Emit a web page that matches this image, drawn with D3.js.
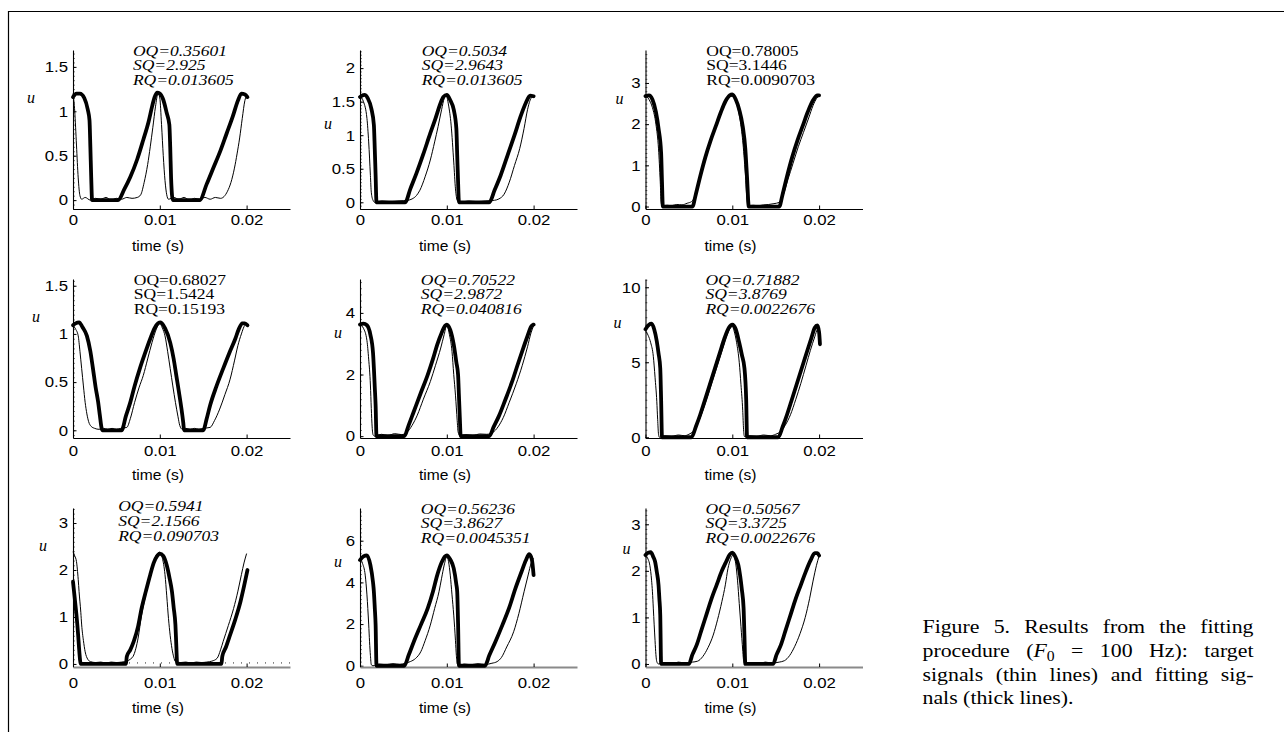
<!DOCTYPE html>
<html><head><meta charset="utf-8">
<script src="https://cdn.jsdelivr.net/npm/d3@7"></script>
<style>body{margin:0;background:#fff} svg{display:block}</style>
</head><body><svg id="c" width="1284" height="732"></svg>
<script>
// ---------------- DATA ----------------
const xTicks = [0, 0.01, 0.02];
const xDomain = [0, 0.025];
const oqText = ["0.35601","0.5034","0.78005","0.68027","0.70522","0.71882","0.5941","0.56236","0.50567"];
const sqText = ["2.925","2.9643","3.1446","1.5424","2.9872","3.8769","2.1566","3.8627","3.3725"];
const rqText = ["0.013605","0.013605","0.0090703","0.15193","0.040816","0.0022676","0.090703","0.0045351","0.0022676"];
const annotItalic = [true,true,false,false,true,true,true,true,true];
const yMin = [-0.1, -0.1, -0.06, -0.08, -0.06, -0.05, -0.065, -0.06, -0.065];
const yMax = [1.69, 2.27, 3.8, 1.57, 5.1, 10.55, 3.32, 7.57, 3.35];
const yTicks = [[0,0.5,1,1.5],[0,0.5,1,1.5,2],[0,1,2,3],[0,0.5,1,1.5],[0,2,4],[0,5,10],[0,1,2,3],[0,2,4,6],[0,1,2,3]];
const yMinorStep = [0.05,0.05,0.1,0.05,0.2,0.5,0.1,0.2,0.1];

const fit1 = [[0,1.16],[0.0004,1.2],[0.0008,1.2],[0.0013,1.15],[0.0017,1.02],[0.0019,0.9],[0.002,0.6],[0.0021,0.25],[0.0022,0],[0.0052,0],[0.0059,0.12],[0.0066,0.26],[0.0074,0.46],[0.0081,0.68],[0.0087,0.88],[0.0091,1.05],[0.0094,1.16],[0.0097,1.21],[0.01,1.2],[0.0104,1.13],[0.0108,0.98],[0.0111,0.85],[0.0112,0.6],[0.0113,0.25],[0.0115,0],[0.0146,0],[0.0154,0.18],[0.0162,0.37],[0.017,0.56],[0.0177,0.75],[0.0184,0.94],[0.019,1.12],[0.0194,1.2],[0.0198,1.19],[0.0201,1.16]];
const target1 = [[0,1.2],[0.0002,1.0],[0.0004,0.62],[0.0006,0.25],[0.0008,0.05],[0.001,0.01],[0.0014,0.03],[0.002,0.0],[0.0026,0.02],[0.0032,0.01],[0.0038,0.03],[0.0044,0.0],[0.005,0.02],[0.0056,0.01],[0.0062,0.03],[0.0068,0.02],[0.0074,0.03],[0.0078,0.06],[0.0082,0.2],[0.0086,0.4],[0.0089,0.6],[0.0092,0.82],[0.0095,1.05],[0.0098,1.2],[0.01,1.15],[0.0102,0.85],[0.0104,0.5],[0.0106,0.22],[0.0108,0.06],[0.011,0.01],[0.0116,0.03],[0.0122,0.01],[0.0128,0.03],[0.0134,0.0],[0.014,0.02],[0.0146,0.01],[0.0152,0.03],[0.0158,0.01],[0.0164,0.03],[0.017,0.02],[0.0174,0.04],[0.0178,0.1],[0.0182,0.2],[0.0186,0.36],[0.0189,0.52],[0.0192,0.7],[0.0195,0.92],[0.0198,1.12],[0.02,1.18]];

const fit2 = [[0,1.57],[0.0005,1.6],[0.0009,1.55],[0.0013,1.4],[0.0016,1.15],[0.0017,0.8],[0.0018,0.4],[0.0019,0],[0.0052,0],[0.0058,0.2],[0.0065,0.43],[0.0073,0.72],[0.0081,1.03],[0.0087,1.25],[0.0092,1.45],[0.0096,1.57],[0.01,1.6],[0.0104,1.52],[0.0108,1.38],[0.0111,1.1],[0.0112,0.7],[0.0113,0.3],[0.0114,0],[0.0149,0],[0.0155,0.18],[0.0162,0.4],[0.017,0.7],[0.0178,1.0],[0.0185,1.28],[0.0191,1.48],[0.0196,1.59],[0.02,1.58]];
const target2 = [[0,1.58],[0.0004,1.5],[0.0008,1.25],[0.001,0.9],[0.0012,0.4],[0.0013,0.15],[0.0015,0.03],[0.0017,0],[0.0025,0.02],[0.0035,0.01],[0.0045,0.02],[0.0055,0.03],[0.006,0.05],[0.0065,0.1],[0.0069,0.18],[0.0075,0.38],[0.0081,0.63],[0.0086,0.9],[0.009,1.13],[0.0094,1.38],[0.0097,1.55],[0.0099,1.6],[0.0102,1.45],[0.0105,1.15],[0.0108,0.6],[0.011,0.2],[0.0112,0.03],[0.0115,0],[0.0125,0.02],[0.0135,0.01],[0.0145,0.02],[0.0155,0.03],[0.016,0.05],[0.0166,0.12],[0.0172,0.3],[0.0178,0.55],[0.0184,0.8],[0.0189,1.1],[0.0193,1.38],[0.0197,1.55],[0.02,1.58]];

const fit3 = [[0,2.68],[0.0004,2.7],[0.0008,2.6],[0.0012,2.3],[0.0015,1.9],[0.0018,1.3],[0.0019,0.6],[0.002,0],[0.0054,0],[0.0058,0.3],[0.0063,0.73],[0.0069,1.2],[0.0075,1.6],[0.0081,1.95],[0.0087,2.3],[0.0092,2.55],[0.0097,2.7],[0.01,2.72],[0.0104,2.6],[0.0108,2.35],[0.0112,1.95],[0.0115,1.4],[0.0117,0.7],[0.0119,0],[0.0154,0],[0.0158,0.3],[0.0163,0.73],[0.0169,1.2],[0.0175,1.6],[0.0181,1.95],[0.0187,2.3],[0.0193,2.58],[0.0198,2.7],[0.02,2.7]];
const target3 = [[0,2.7],[0.0004,2.6],[0.0008,2.4],[0.0012,2.0],[0.0015,1.4],[0.0017,0.6],[0.0018,0.1],[0.0019,0.02],[0.0025,0.03],[0.003,0.02],[0.0036,0.05],[0.0042,0.04],[0.0048,0.08],[0.0053,0.12],[0.0057,0.25],[0.0063,0.7],[0.0069,1.18],[0.0075,1.58],[0.0081,1.93],[0.0087,2.28],[0.0092,2.55],[0.0097,2.68],[0.0101,2.68],[0.0105,2.5],[0.0109,2.1],[0.0112,1.6],[0.0115,0.8],[0.0117,0.15],[0.0118,0.02],[0.0124,0.03],[0.013,0.02],[0.0136,0.04],[0.0142,0.05],[0.0148,0.07],[0.0154,0.1],[0.0159,0.3],[0.0164,0.65],[0.017,1.05],[0.0176,1.45],[0.0182,1.8],[0.0188,2.15],[0.0193,2.45],[0.0197,2.62],[0.02,2.68]];

const fit4 = [[0,1.09],[0.0003,1.11],[0.0007,1.12],[0.0011,1.07],[0.0016,0.98],[0.002,0.82],[0.0023,0.64],[0.0026,0.45],[0.0029,0.29],[0.0031,0.15],[0.0033,0.02],[0.0034,0],[0.0056,0],[0.0061,0.15],[0.0066,0.29],[0.0071,0.46],[0.0077,0.64],[0.0083,0.8],[0.0089,0.95],[0.0094,1.06],[0.0098,1.11],[0.0101,1.12],[0.0106,1.06],[0.0112,0.91],[0.0116,0.74],[0.0119,0.57],[0.0122,0.4],[0.0125,0.22],[0.0127,0.08],[0.0128,0],[0.015,0],[0.0154,0.12],[0.0158,0.26],[0.0165,0.45],[0.0173,0.64],[0.018,0.8],[0.0187,0.95],[0.0191,1.05],[0.0195,1.11],[0.0198,1.11],[0.0201,1.09]];
const target4 = [[0,1.09],[0.0003,1.05],[0.0006,0.98],[0.0008,0.82],[0.001,0.64],[0.0012,0.46],[0.0014,0.29],[0.0016,0.17],[0.0018,0.09],[0.0021,0.04],[0.0025,0.02],[0.003,0.01],[0.0035,0.02],[0.004,0.01],[0.0045,0.02],[0.005,0.01],[0.0055,0.02],[0.0062,0.03],[0.0066,0.12],[0.0071,0.29],[0.0076,0.44],[0.0081,0.57],[0.0086,0.74],[0.0091,0.91],[0.0096,1.05],[0.01,1.11],[0.0103,1.06],[0.0106,0.98],[0.0109,0.82],[0.0112,0.64],[0.0115,0.46],[0.0118,0.29],[0.0121,0.14],[0.0123,0.05],[0.0126,0.01],[0.013,0.02],[0.0135,0.01],[0.014,0.02],[0.0145,0.01],[0.015,0.02],[0.0158,0.03],[0.0163,0.1],[0.0169,0.22],[0.0175,0.37],[0.0181,0.53],[0.0186,0.72],[0.019,0.88],[0.0194,1.0],[0.0198,1.09],[0.02,1.1]];

const fit5 = [[0,3.62],[0.0004,3.65],[0.0008,3.6],[0.0012,3.29],[0.0015,2.7],[0.0016,2.2],[0.0017,1.6],[0.0018,1.0],[0.0019,0],[0.0051,0],[0.0056,0.35],[0.0062,0.8],[0.007,1.4],[0.0078,1.99],[0.0084,2.5],[0.0089,2.97],[0.0094,3.35],[0.0098,3.58],[0.01,3.62],[0.0104,3.45],[0.0108,2.97],[0.0111,2.4],[0.0113,1.99],[0.0114,1.3],[0.0115,0.6],[0.0116,0],[0.0149,0],[0.0154,0.3],[0.016,0.65],[0.0167,1.15],[0.0175,1.75],[0.0182,2.35],[0.0188,2.85],[0.0193,3.25],[0.0197,3.55],[0.02,3.62]];
const target5 = [[0,3.62],[0.0004,3.5],[0.0008,3.1],[0.001,2.5],[0.0012,1.66],[0.0013,0.9],[0.0014,0.3],[0.0015,0.05],[0.0017,0],[0.0025,0.06],[0.0032,0.02],[0.004,0.08],[0.0048,0.05],[0.0054,0.12],[0.006,0.35],[0.0066,0.68],[0.0073,1.2],[0.0081,1.77],[0.0087,2.3],[0.0093,2.86],[0.0097,3.3],[0.01,3.6],[0.0103,3.3],[0.0106,2.75],[0.0108,2.0],[0.011,1.33],[0.0112,0.5],[0.0113,0.14],[0.0115,0.02],[0.0122,0.05],[0.013,0.02],[0.0138,0.07],[0.0146,0.06],[0.0153,0.12],[0.0159,0.3],[0.0165,0.6],[0.0172,1.1],[0.018,1.7],[0.0187,2.3],[0.0193,2.9],[0.0197,3.35],[0.02,3.58]];

const fit6 = [[0,7.2],[0.0004,7.5],[0.0007,7.57],[0.001,7.2],[0.0013,6.4],[0.0015,5.6],[0.0017,4.6],[0.0018,2.5],[0.0019,0],[0.0053,0],[0.0058,0.7],[0.0063,1.5],[0.0068,2.4],[0.0074,3.5],[0.008,4.6],[0.0086,5.7],[0.0091,6.6],[0.0096,7.3],[0.01,7.5],[0.0104,7.2],[0.0108,6.3],[0.0111,5.5],[0.0114,4.6],[0.0116,2.5],[0.0117,0],[0.0153,0],[0.0158,0.7],[0.0163,1.5],[0.0168,2.4],[0.0174,3.5],[0.018,4.6],[0.0186,5.7],[0.0191,6.6],[0.0195,7.3],[0.0198,7.45],[0.02,7.0],[0.0201,6.2]];
const target6 = [[0,7.1],[0.0003,6.8],[0.0006,6.3],[0.0009,5.4],[0.0011,4.0],[0.0013,2.4],[0.0014,1.2],[0.0015,0.2],[0.0016,0],[0.0022,0.1],[0.003,0.05],[0.0038,0.15],[0.0045,0.1],[0.005,0.2],[0.0055,0.4],[0.006,0.9],[0.0065,1.6],[0.0071,2.6],[0.0077,3.7],[0.0083,4.8],[0.0089,5.9],[0.0094,6.8],[0.0098,7.3],[0.01,7.4],[0.0102,7.1],[0.0105,6.3],[0.0108,5.0],[0.011,3.5],[0.0112,1.8],[0.0113,0.5],[0.0114,0.05],[0.012,0.1],[0.0128,0.05],[0.0136,0.15],[0.0144,0.1],[0.015,0.2],[0.0156,0.4],[0.0161,0.8],[0.0167,1.5],[0.0173,2.5],[0.0179,3.6],[0.0185,4.8],[0.019,5.8],[0.0195,6.7],[0.0198,7.2],[0.02,7.3]];

const fit7 = [[0,1.75],[0.0002,1.4],[0.0004,1.04],[0.0006,0.6],[0.0007,0.33],[0.0009,0],[0.0061,0],[0.0062,0.16],[0.0066,0.3],[0.007,0.48],[0.0075,0.8],[0.0079,1.18],[0.0084,1.55],[0.0089,1.9],[0.0093,2.15],[0.0097,2.3],[0.01,2.35],[0.0104,2.3],[0.0108,2.1],[0.0111,1.85],[0.0114,1.54],[0.0116,1.2],[0.0118,0.83],[0.0119,0.4],[0.012,0],[0.0171,0],[0.0172,0.16],[0.0176,0.35],[0.0181,0.62],[0.0187,0.95],[0.0193,1.33],[0.0197,1.65],[0.0201,2.0]];
const target7 = [[0,2.39],[0.0002,2.3],[0.0004,2.18],[0.0006,1.8],[0.0007,1.54],[0.0009,1.1],[0.001,0.83],[0.0012,0.5],[0.0014,0.26],[0.0017,0.1],[0.002,0.05],[0.0026,0.03],[0.0032,0.04],[0.0038,0.02],[0.0044,0.04],[0.005,0.03],[0.0056,0.04],[0.0062,0.06],[0.0066,0.1],[0.007,0.19],[0.0075,0.55],[0.0079,1.04],[0.0083,1.4],[0.0087,1.75],[0.0092,2.1],[0.0096,2.32],[0.01,2.38],[0.0103,2.25],[0.0106,1.9],[0.0108,1.45],[0.011,0.97],[0.0112,0.6],[0.0114,0.33],[0.0116,0.15],[0.0118,0.05],[0.0124,0.03],[0.013,0.04],[0.0136,0.02],[0.0142,0.04],[0.0148,0.03],[0.0154,0.04],[0.016,0.06],[0.0166,0.12],[0.017,0.3],[0.0173,0.48],[0.0179,0.82],[0.0185,1.18],[0.019,1.55],[0.0194,1.9],[0.0197,2.15],[0.02,2.35]];

const fit8 = [[0,5.07],[0.0004,5.25],[0.0008,5.3],[0.0012,4.83],[0.0015,4.0],[0.0016,3.55],[0.0017,2.8],[0.0018,1.95],[0.0019,0],[0.0051,0],[0.0056,0.5],[0.0062,1.15],[0.007,1.95],[0.0078,2.75],[0.0084,3.55],[0.0089,4.35],[0.0094,4.95],[0.0098,5.25],[0.01,5.3],[0.0104,5.1],[0.0108,4.67],[0.0111,3.9],[0.0112,3.55],[0.0113,2.0],[0.0114,0],[0.0144,0],[0.0149,0.5],[0.0156,1.15],[0.0164,1.95],[0.0172,2.8],[0.0179,3.7],[0.0186,4.5],[0.0191,5.05],[0.0195,5.35],[0.0198,5.1],[0.02,4.35]];
const target8 = [[0,5.15],[0.0003,4.9],[0.0006,4.35],[0.0008,3.4],[0.0009,2.75],[0.001,2.0],[0.0011,1.15],[0.0012,0.5],[0.0013,0.05],[0.0015,0],[0.0022,0.08],[0.003,0.05],[0.0038,0.1],[0.0046,0.06],[0.0052,0.12],[0.0058,0.2],[0.0064,0.35],[0.007,0.67],[0.0075,1.2],[0.0081,1.95],[0.0086,2.75],[0.0091,3.55],[0.0094,4.2],[0.0097,4.83],[0.01,5.23],[0.0102,5.0],[0.0104,4.35],[0.0106,3.4],[0.0108,2.43],[0.011,1.2],[0.0111,0.5],[0.0112,0.1],[0.0114,0],[0.012,0.08],[0.0128,0.05],[0.0136,0.1],[0.0144,0.06],[0.0152,0.12],[0.0158,0.2],[0.0163,0.4],[0.0169,0.9],[0.0177,1.63],[0.0183,2.5],[0.0189,3.55],[0.0194,4.4],[0.0197,4.9],[0.02,5.15]];

const fit9 = [[0,2.34],[0.0003,2.39],[0.0006,2.4],[0.0009,2.3],[0.0011,2.2],[0.0013,1.98],[0.0015,1.7],[0.0016,1.4],[0.0017,1.05],[0.0018,0],[0.005,0],[0.0054,0.2],[0.0059,0.41],[0.0064,0.7],[0.007,1.05],[0.0076,1.4],[0.0082,1.7],[0.0088,2.0],[0.0093,2.2],[0.0097,2.35],[0.01,2.39],[0.0104,2.28],[0.0107,2.12],[0.0109,1.9],[0.0111,1.6],[0.0113,1.2],[0.0114,0.6],[0.0115,0],[0.0147,0],[0.0151,0.2],[0.0156,0.41],[0.0161,0.7],[0.0167,1.05],[0.0173,1.4],[0.0179,1.7],[0.0185,2.0],[0.019,2.22],[0.0195,2.38],[0.0198,2.38],[0.02,2.33]];
const target9 = [[0,2.34],[0.0003,2.25],[0.0005,2.12],[0.0007,1.8],[0.0008,1.55],[0.0009,1.2],[0.001,0.84],[0.0011,0.5],[0.0012,0.2],[0.0013,0.05],[0.0015,0],[0.0022,0.03],[0.003,0.01],[0.0038,0.04],[0.0046,0.02],[0.0054,0.04],[0.006,0.06],[0.0066,0.16],[0.0072,0.35],[0.0078,0.62],[0.0083,0.95],[0.0088,1.34],[0.0092,1.7],[0.0095,2.05],[0.0098,2.25],[0.0101,2.34],[0.0104,2.15],[0.0106,1.8],[0.0108,1.3],[0.011,0.8],[0.0112,0.3],[0.0113,0.08],[0.0115,0],[0.0122,0.03],[0.013,0.01],[0.0138,0.04],[0.0146,0.02],[0.0154,0.04],[0.016,0.07],[0.0166,0.18],[0.0172,0.38],[0.0178,0.65],[0.0184,1.0],[0.0189,1.4],[0.0193,1.78],[0.0197,2.12],[0.02,2.32]];

const fits = [fit1,fit2,fit3,fit4,fit5,fit6,fit7,fit8,fit9];
const targets = [target1,target2,target3,target4,target5,target6,target7,target8,target9];
const dottedZero = [[0,0],[0.025,0]]; // panel 7 reference line at u = 0

const captionLines = [
  [["Figure"],["5."],["Results"],["from"],["the"],["fitting"]],
  [["procedure"],["(", ["F","i"], ["0","sub"]],["="],["100"],["Hz):"],["target"]],
  [["signals"],["(thin"],["lines)"],["and"],["fitting"],["sig-"]],
  [["nals"],["(thick"],["lines)."]]
];

// ---------------- LAYOUT ----------------
const W = 1284, H = 732;
const colX = [73, 360, 645.5];
const rowTop = [50, 279, 508];
const rowBottom = [209, 438, 667];
const plotW = 217;
const tickLabelDy = [15.5, 17.5, 20.5];
const timeLabelDy = [42, 42, 46];
const uDx = [42, 32, 26, 37, 22, 28, 30, 22, 19];
const uDy = [53, 79, 54, 43, 59, 49, 43, 59, 46];
const annotX = [0.0069,0.0071,0.007,0.007,0.007,0.0069,0.0052,0.007,0.0069];
const annotDy = [5.5,5.5,5.5,5.5,5.5,5.5,3,5.5,5.5];
const tickFont = 15, tickStretch = 1.12;

const sans = "'Liberation Sans', Arial, Helvetica, sans-serif";
const serif = "'Liberation Serif', 'Times New Roman', Times, serif";

const svg = d3.select('#c');
svg.append('rect').attr('width',W).attr('height',H).attr('fill','#fff');
svg.append('line').attr('x1',8).attr('x2',W).attr('y1',11.5).attr('y2',11.5).attr('stroke','#000').attr('stroke-width',1.2);
svg.append('line').attr('x1',8.5).attr('x2',8.5).attr('y1',11).attr('y2',H).attr('stroke','#000').attr('stroke-width',1.2);

function stretchText(sel, sx) {
  sel.each(function() {
    const t = d3.select(this);
    const x = +t.attr('x') || 0, y = +t.attr('y') || 0;
    t.attr('transform', `translate(${x},${y}) scale(${sx},1)`).attr('x', 0).attr('y', 0);
  });
}

for (let i = 0; i < 9; i++) {
  const r = Math.floor(i/3), c = i % 3;
  const x = d3.scaleLinear().domain(xDomain).range([colX[c], colX[c] + plotW]);
  const y = d3.scaleLinear().domain([yMin[i], yMax[i]]).range([rowBottom[r], rowTop[r]]);
  const g = svg.append('g');

  const minor = d3.range(Math.ceil(yMin[i]/yMinorStep[i])*yMinorStep[i], yMax[i], yMinorStep[i]);
  g.append('g').attr('transform', `translate(${colX[c]},0)`)
    .call(d3.axisLeft(y).tickValues(minor).tickSize(-1.8).tickSizeOuter(0).tickFormat(''))
    .call(a => a.select('.domain').remove())
    .call(a => a.selectAll('line').attr('stroke','#333').attr('stroke-width',0.8));

  const ya = g.append('g').attr('transform', `translate(${colX[c]},0)`)
    .call(d3.axisLeft(y).tickValues(yTicks[i]).tickSize(-3.5).tickSizeOuter(0).tickPadding(5).tickFormat(d3.format('~g')));
  ya.attr('font-family', sans).attr('font-size', tickFont);
  ya.select('.domain').attr('stroke','#000').attr('stroke-width',1.1);
  ya.selectAll('text').attr('fill','#000').call(s => stretchText(s, tickStretch));

  const xa = g.append('g').attr('transform', `translate(0,${rowBottom[r]})`)
    .call(d3.axisBottom(x).tickValues(xTicks).tickSize(-3.5).tickSizeOuter(0).tickFormat(d => d === 0 ? '0' : d3.format('.2f')(d)));
  xa.attr('font-family', sans).attr('font-size', tickFont);
  xa.select('.domain').attr('stroke', r === 2 ? '#8a8a8a' : '#000').attr('stroke-width', r === 2 ? 2.2 : 1.1);
  xa.selectAll('text').attr('fill','#000').attr('y', tickLabelDy[r]).attr('dy', 0).call(s => stretchText(s, tickStretch));

  g.append('text').attr('x', colX[c] + 85).attr('y', rowBottom[r] + timeLabelDy[r])
    .attr('text-anchor','middle').attr('font-family', sans).attr('font-size', 15).text('time (s)')
    .call(s => stretchText(s, 1.04));

  g.append('text').attr('x', colX[c] - uDx[i]).attr('y', rowTop[r] + uDy[i])
    .attr('text-anchor','middle').attr('font-family', serif).attr('font-style','italic').attr('font-size', 16).text('u');

  if (i === 6) {
    g.append('path').datum(dottedZero)
      .attr('d', d3.line().x(d => x(d[0])).y(d => y(d[1]) - 1))
      .attr('fill','none').attr('stroke','#222').attr('stroke-width',1).attr('stroke-dasharray','1,7');
  }

  const line = d3.line().x(d => x(d[0])).y(d => y(d[1])).curve(d3.curveMonotoneX);
  g.append('path').datum(targets[i]).attr('d', line)
    .attr('fill','none').attr('stroke','#000').attr('stroke-width',1).attr('stroke-linejoin','round');
  g.append('path').datum(fits[i]).attr('d', line)
    .attr('fill','none').attr('stroke','#000').attr('stroke-width',3.8).attr('stroke-linejoin','round').attr('stroke-linecap','round');

  const ax = x(annotX[i]);
  const labels = [["OQ", oqText[i]], ["SQ", sqText[i]], ["RQ", rqText[i]]];
  const at = g.append('g').attr('transform', `translate(${ax},${rowTop[r] + annotDy[i]}) scale(1.17,1)`);
  labels.forEach((L, k) => {
    at.append('text').attr('x', 0).attr('y', k * 15)
      .attr('font-family', serif).attr('font-size', 15)
      .attr('font-style', annotItalic[i] ? 'italic' : 'normal')
      .text(L[0] + '=' + L[1]);
  });
}

// ---------------- CAPTION (justified, horizontally stretched like the source) ----------------
const capX0 = 922.5, capX1 = 1253.5;
const capBase = [633, 657, 681, 704.5];
const capSize = 19.5, capStretch = 1.12;
const capW = (capX1 - capX0) / capStretch;
const capG = svg.append('g').attr('transform', `translate(${capX0},0) scale(${capStretch},1)`);
captionLines.forEach((words, li) => {
  const nodes = words.map(w => {
    const t = capG.append('text').attr('font-family', serif).attr('font-size', capSize).attr('y', capBase[li]).attr('fill','#000');
    w.forEach(part => {
      if (typeof part === 'string') t.append('tspan').text(part);
      else if (part[1] === 'i') t.append('tspan').attr('font-style','italic').text(part[0]);
      else if (part[1] === 'sub') t.append('tspan').attr('font-size', capSize*0.72).attr('dy', 4).text(part[0]);
    });
    return t;
  });
  const widths = nodes.map(n => n.node().getComputedTextLength());
  const total = d3.sum(widths);
  const justify = li < captionLines.length - 1;
  const gap = justify ? (capW - total) / (nodes.length - 1) : capSize * 0.25;
  let cx = 0;
  nodes.forEach((n, k) => { n.attr('x', cx); cx += widths[k] + gap; });
});
</script></body></html>
